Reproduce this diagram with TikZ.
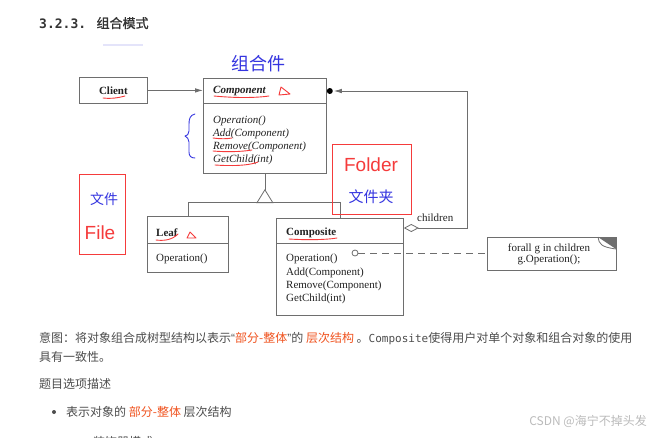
\documentclass[tikz,border=0pt]{standalone}
\usepackage{fontspec}
\setmainfont{Liberation Serif}
\newfontfamily\cjk{Noto Sans CJK SC}
\newfontfamily\cjkh{Noto Sans CJK SC}[FakeBold=1.2]
\newfontfamily\mono{DejaVu Sans Mono}
\newfontfamily\hand{Liberation Sans}
\usetikzlibrary{arrows.meta,calc}
\definecolor{linegray}{HTML}{6E6E6E}
\definecolor{umltext}{HTML}{222222}
\definecolor{bodytext}{HTML}{4D4D4D}
\definecolor{hilite}{HTML}{F0531F}
\definecolor{redpen}{HTML}{F53B3B}
\definecolor{bluepen}{HTML}{3535E0}
\definecolor{headc}{HTML}{333333}
\definecolor{wm}{HTML}{BBBBBB}
\definecolor{faint}{HTML}{E4E4FA}
\begin{document}
\begin{tikzpicture}[x=1pt,y=-1pt,
  umlbox/.style={draw=linegray, line width=0.8pt, inner sep=0pt, anchor=north west},
  ut/.style={inner sep=0pt, anchor=base west, text=umltext, font=\fontsize{11}{13}\selectfont},
  redmark/.style={draw=redpen, line width=0.9pt, line cap=round, line join=round},
  bluemark/.style={draw=bluepen, line width=0.9pt, line cap=round, line join=round},
  redframe/.style={draw=redpen, line width=1.1pt},
  conn/.style={draw=linegray, line width=0.8pt},
  body/.style={inner sep=0pt, anchor=base west, text=bodytext, font=\cjk\fontsize{12}{14}\selectfont},
]
\useasboundingbox (0,0) rectangle (655,437);
\fill[white] (0,0) rectangle (655,437);

% heading
\node[inner sep=0pt, anchor=base west, text=headc] (head) at (39,28)
  {\fontsize{13}{15}\selectfont{\mono\bfseries 3.2.3. }{\cjkh 组合模式}};
\draw[faint, line width=1.2pt] (103,45) -- (143,45);

% UML boxes
\node[umlbox, minimum width=68pt, minimum height=26pt] (client) at (79,77) {};
\node[umlbox, minimum width=123pt, minimum height=95pt] (component) at (203,78) {};
\node[umlbox, minimum width=81pt, minimum height=56pt] (leaf) at (147,216) {};
\node[umlbox, minimum width=127pt, minimum height=97pt] (composite) at (276,218) {};
\node[umlbox, minimum width=129pt, minimum height=33pt] (note) at (487,237) {};

\draw[conn] (component.north west |- 0,103) -- (component.north east |- 0,103);
\draw[conn] (leaf.north west |- 0,243) -- (leaf.north east |- 0,243);
\draw[conn] (composite.north west |- 0,243) -- (composite.north east |- 0,243);

% note dog-ear
\fill[linegray] (598,237) -- (616,237) -- (616,249) -- cycle;
\draw[conn] (598,237) .. controls (599,244) and (601,247) .. (616,249);

% texts
\node[inner sep=0pt, text=umltext, font=\fontsize{11}{13}\selectfont\bfseries] (tclient) at (client.center) {Client};
\node[ut, font=\fontsize{11}{13}\selectfont\bfseries\itshape] (tcomp) at (213,93) {Component};
\node[ut, font=\fontsize{11}{13}\selectfont\itshape] (op1) at (213,123) {Operation()};
\node[ut, font=\fontsize{11}{13}\selectfont\itshape] (op2) at (213,136) {Add(Component)};
\node[ut, font=\fontsize{11}{13}\selectfont\itshape] (op3) at (213,149) {Remove(Component)};
\node[ut, font=\fontsize{11}{13}\selectfont\itshape] (op4) at (213,162) {GetChild(int)};

\node[ut, font=\fontsize{11}{13}\selectfont\bfseries] (tleaf) at (156,236) {Leaf};
\node[ut] (lop) at (156,261) {Operation()};

\node[ut, font=\fontsize{11}{13}\selectfont\bfseries] (tcps) at (286,235) {Composite};
\node[ut] (cop1) at (286,261) {Operation()};
\node[ut] (cop2) at (286,275) {Add(Component)};
\node[ut] (cop3) at (286,288) {Remove(Component)};
\node[ut] (cop4) at (286,301) {GetChild(int)};

\node[ut, anchor=base] (n1) at (549,251) {forall g in children};
\node[ut, anchor=base] (n2) at (549,262.5) {g.Operation();};

\node[ut] (lblchildren) at (417,221) {children};

% connectors
\draw[conn, -{Latex[length=8pt,width=4.5pt]}] (client.east) -- (client.east -| component.west);

\coordinate (aggA) at ($(composite.north east)+(0,10)$);
\coordinate (aggC) at (467,91);
\coordinate (aggEnd) at ($(component.north east)+(7,13)$);
\draw[conn, {Diamond[open,length=15pt,width=8pt]}-{Latex[length=8pt,width=4.5pt]}] (aggA) -| (aggC) -- (aggEnd);
\fill[black] ($(component.north east)+(3,13)$) circle (3pt);

\coordinate (tritop) at ($(component.south)+(0,16)$);
\coordinate (hbar) at (0,202);
\draw[conn] (component.south) -- (tritop);
\draw[conn] (tritop) -- ++(-8,13) -- ++(16,0) -- cycle;
\draw[conn] (leaf.north) |- (composite.north |- hbar) -- (composite.north);

\coordinate (dotc) at (355,253);
\draw[conn] (dotc) circle (3pt);
\draw[conn, dashed, dash pattern=on 7pt off 5pt] (358,253) -- (note.west |- 0,253);

% red annotations
\draw[redmark] (103,98) .. controls (110,99) and (118,98) .. (125,96);
\draw[redmark] (214,96) .. controls (235,98) and (255,98) .. (269,96);
\draw[redmark] (213,138) .. controls (220,139) and (227,139) .. (232,138);
\draw[redmark] (213,151) .. controls (225,152) and (240,152) .. (252,150);
\draw[redmark] (215,165) .. controls (230,166) and (248,166) .. (258,162);
\draw[redmark] (156,240) .. controls (164,241) and (172,240) .. (178,234);
\draw[redmark] (289,239) .. controls (305,240) and (325,240) .. (337,238);
\draw[redmark] (281,87) -- (279,95) -- (290,94) -- cycle;
\draw[redmark] (190,232) -- (187,238) -- (196,238) -- cycle;

\node[redframe, minimum width=46pt, minimum height=80pt, anchor=north west] (fileframe) at (79,174) {};
\node[redframe, minimum width=79pt, minimum height=70pt, anchor=north west] (folderframe) at (332,144) {};

\node[inner sep=0pt, text=bluepen, font=\cjk\fontsize{18}{20}\selectfont] (hzj) at (258,64) {组合件};
\node[inner sep=0pt, text=bluepen, font=\cjk\fontsize{14}{16}\selectfont] (hwj) at (104,199) {文件};
\node[inner sep=0pt, text=redpen, font=\hand\fontsize{19}{21}\selectfont] (hfile) at (100,233) {File};
\node[inner sep=0pt, text=redpen, font=\hand\fontsize{19}{21}\selectfont] (hfolder) at (371,165) {Folder};
\node[inner sep=0pt, text=bluepen, font=\cjk\fontsize{15}{17}\selectfont] (hwjj) at (371,197) {文件夹};

\draw[bluemark] (195,114) .. controls (190,115) and (189,119) .. (189,124) -- (189,131)
  .. controls (189,134) and (187,136) .. (185,136)
  .. controls (187,137) and (189,139) .. (189,142) -- (189,152)
  .. controls (189,156) and (191,158) .. (195,158);

% body text
\node[body] (p1) at (39,342) {意图：将对象组合成树型结构以表示{\hand “}\textcolor{hilite}{部分-整体}{\hand ”}的 \textcolor{hilite}{层次结构} 。{\mono\fontsize{11}{14}\selectfont Composite}使得用户对单个对象和组合对象的使用};
\node[body] (p2) at (39,361) {具有一致性。};
\node[body] (p3) at (39,388) {题目选项描述};
\fill[bodytext] (54,412) circle (2pt);
\node[body] (p4) at (66,416) {表示对象的 \textcolor{hilite}{部分-整体} 层次结构};
\node[body] (p5) at (93,446) {装饰器模式};
\node[inner sep=0pt, anchor=base east, text=wm, font=\cjk\fontsize{12}{14}\selectfont] (wmk) at (647,425) {CSDN @海宁不掉头发};
\end{tikzpicture}
\end{document}
